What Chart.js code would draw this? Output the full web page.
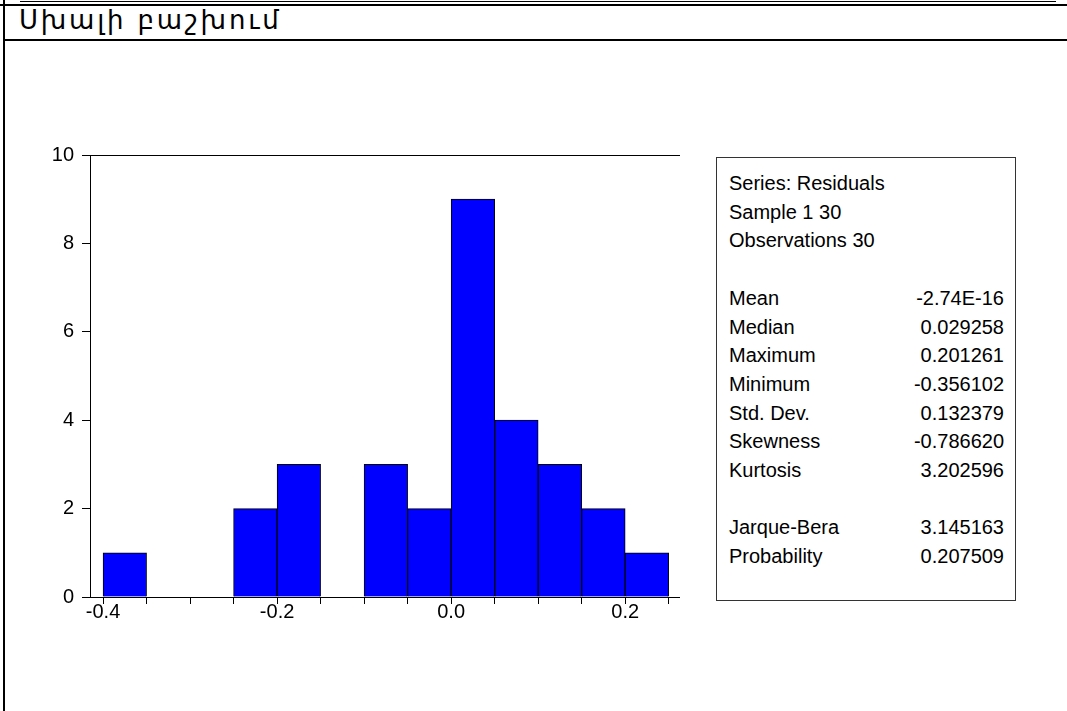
<!DOCTYPE html>
<html>
<head>
<meta charset="utf-8">
<script src="https://cdn.jsdelivr.net/npm/chart.js@4.4.1/dist/chart.umd.min.js"></script>
<style>
  body { margin: 0; background: #fff; width: 1067px; height: 711px; overflow: hidden; position: relative; font-family: "Liberation Sans", Arial, sans-serif; }
  .line { position: absolute; background: #000; }
  #title { position: absolute; left: 19px; top: 5px; font-family: "DejaVu Sans", "Noto Sans", sans-serif; font-size: 26px; letter-spacing: 2.8px; color: #000; }
  #chartBox { position: absolute; left: 20px; top: 135px; width: 660px; height: 505px; }
  #stats { position: absolute; left: 716px; top: 157px; width: 300px; height: 444px; border: 1px solid #333; box-sizing: border-box; font-size: 20px; color: #000; }
  #stats table { position: absolute; left: 12px; top: 11px; width: 275px; border-collapse: collapse; }
  #stats td { padding: 0; height: 28.7px; line-height: 28.7px; white-space: nowrap; }
  #stats td.v { text-align: right; }
</style>
</head>
<body>
<div class="line" style="left:20px;top:1px;width:1036px;height:1px;"></div>
<div class="line" style="left:0;top:4px;width:1067px;height:2px;"></div>
<div class="line" style="left:3px;top:0;width:2px;height:711px;"></div>
<div class="line" style="left:3px;top:39px;width:1064px;height:2px;"></div>
<div id="title">Սխալի բաշխում</div>
<div id="chartBox"><canvas id="myChart"></canvas></div>
<div id="stats"><table id="statTable"></table></div>
<script>
'use strict';

// histogram bins (centre of each 0.05 wide bin) and counts
let bin_centers = [-0.375, -0.325, -0.275, -0.225, -0.175, -0.125, -0.075, -0.025, 0.025, 0.075, 0.125, 0.175, 0.225];
let bin_counts = [1, 0, 0, 2, 3, 0, 3, 2, 9, 4, 3, 2, 1];
let y_ticks = [0, 2, 4, 6, 8, 10];

let stat_head = ['Series: Residuals', 'Sample 1 30', 'Observations 30'];
let stat_names = ['Mean', 'Median', 'Maximum', 'Minimum', 'Std. Dev.', 'Skewness', 'Kurtosis'];
let stat_values = ['-2.74E-16', '0.029258', '0.201261', '-0.356102', '0.132379', '-0.786620', '3.202596'];
let test_names = ['Jarque-Bera', 'Probability'];
let test_values = ['3.145163', '0.207509'];

let table = document.getElementById('statTable');
function add_row(name, value){
  let tr = document.createElement('tr');
  let td1 = document.createElement('td');
  td1.textContent = name;
  let td2 = document.createElement('td');
  td2.className = 'v';
  td2.textContent = value;
  tr.appendChild(td1);
  tr.appendChild(td2);
  table.appendChild(tr);
}
for (let i = 0; i < stat_head.length; i++){
  add_row(stat_head[i], '');
}
add_row('\u00a0', '');
for (let i = 0; i < stat_names.length; i++){
  add_row(stat_names[i], stat_values[i]);
}
add_row('\u00a0', '');
for (let i = 0; i < test_names.length; i++){
  add_row(test_names[i], test_values[i]);
}

let hist_data = [];
for (let i = 0; i < bin_centers.length; i++){
  hist_data.push({x: bin_centers[i], y: bin_counts[i]});
}

// frame round the plot area
let frame_plugin = {
  id: 'frame',
  afterDraw(chart){
    let a = chart.chartArea;
    let ctx = chart.ctx;
    ctx.save();
    ctx.strokeStyle = '#000';
    ctx.lineWidth = 1;
    ctx.strokeRect(Math.round(a.left) + 0.5, Math.round(a.top) + 0.5, Math.round(a.right - a.left), Math.round(a.bottom - a.top));
    ctx.restore();
  }
};

let tick_font = {family: '"Liberation Sans", Arial, sans-serif', size: 20};

let ctx = document.getElementById('myChart').getContext('2d');
let myChart = new Chart(ctx, {
  type: 'bar',
  data: {
    datasets: [{
      data: hist_data,
      backgroundColor: '#0000FF',
      borderColor: '#000',
      borderWidth: 1,
      barPercentage: 1,
      categoryPercentage: 1
    }]
  },
  options: {
    responsive: true,
    maintainAspectRatio: false,
    animation: false,
    layout: {padding: {top: 12, right: 0, bottom: 0, left: 0}},
    plugins: {legend: {display: false}, tooltip: {enabled: false}},
    scales: {
      x: {
        type: 'linear',
        offset: false,
        min: -0.415,
        max: 0.263,
        afterFit(scale){ scale.height = 43; },
        border: {display: true, color: '#000'},
        grid: {display: true, offset: false, drawOnChartArea: false, drawTicks: true, tickLength: 7, color: '#000'},
        ticks: {
          stepSize: 0.05,
          includeBounds: false,
          autoSkip: false,
          maxRotation: 0,
          color: '#000',
          font: tick_font,
          padding: -4,
          callback: function(v){
            let r = v / 0.2;
            if (Math.abs(r - Math.round(r)) < 1e-6) return (Math.round(r) * 0.2).toFixed(1);
            return '';
          }
        }
      },
      y: {
        min: 0,
        max: 10,
        afterFit(scale){ scale.width = 70; },
        border: {display: true, color: '#000'},
        grid: {display: true, drawOnChartArea: false, drawTicks: true, tickLength: 8, color: '#000'},
        afterBuildTicks(scale){ scale.ticks = y_ticks.map(v => ({value: v})); },
        ticks: {color: '#000', font: tick_font, padding: 8}
      }
    }
  },
  plugins: [frame_plugin]
});
</script>
</body>
</html>
